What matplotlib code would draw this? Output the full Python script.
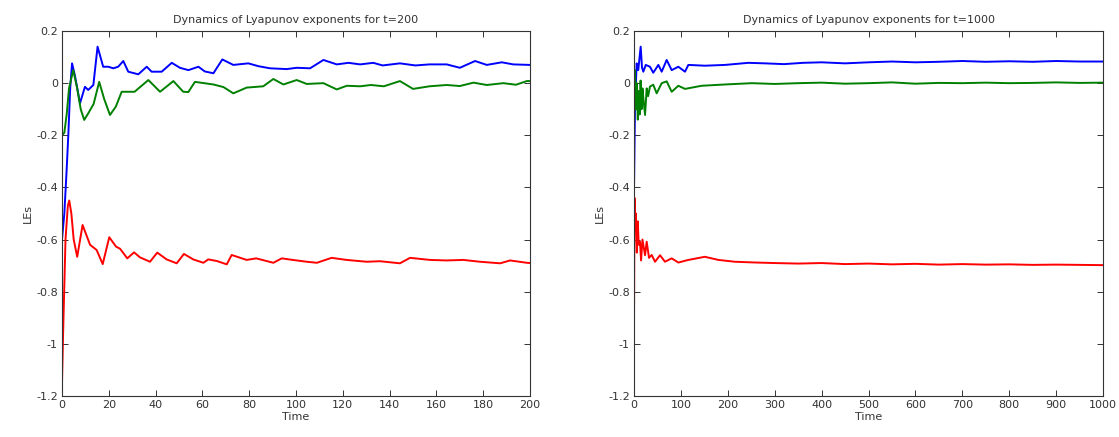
import numpy as np
import matplotlib
matplotlib.use('Agg')
import matplotlib.pyplot as plt
from matplotlib.ticker import FormatStrFormatter, FuncFormatter

plt.rcParams['axes.unicode_minus'] = False
plt.rcParams['font.family'] = ['DejaVu Sans']

# ---- left panel: t = 200 ----
t_blue_200 = [0, 1, 2, 2.7, 3.5, 4.3, 5.5, 7.7, 9.8, 11.2, 13.4, 15.2, 17.6, 19.8, 21.9, 24,
              26.2, 28.3, 32.6, 36.2, 38.3, 42.6, 46.9, 50.4, 54, 58.3, 61, 64.7, 68.5, 73.2,
              79.6, 84, 88.9, 96, 100.3, 106, 111.7, 117.4, 122.4, 127.4, 133, 137, 144.4, 151,
              157, 164.4, 170, 176.5, 181.5, 187.9, 192.8, 200]
le1_200 = [-0.6, -0.5, -0.33, -0.2, -0.02, 0.076, 0.03, -0.077, -0.014, -0.026, -0.007, 0.14,
           0.063, 0.063, 0.057, 0.063, 0.085, 0.044, 0.034, 0.063, 0.044, 0.044, 0.078, 0.059,
           0.05, 0.063, 0.045, 0.038, 0.091, 0.07, 0.076, 0.065, 0.057, 0.054, 0.059, 0.057,
           0.089, 0.072, 0.078, 0.072, 0.078, 0.068, 0.076, 0.068, 0.072, 0.072, 0.059, 0.085,
           0.07, 0.08, 0.072, 0.07]

t_green_200 = [0, 1, 2, 3, 4.8, 6.5, 8, 9.5, 11.2, 13.5, 15.9, 18, 20.5, 23, 25.5, 31, 36.9,
               41.9, 47.6, 51.8, 54, 56.8, 64.7, 69, 73.2, 78.9, 86, 90.3, 94.6, 100.3, 104.6,
               111.7, 117.4, 121.7, 127.4, 132, 137.5, 144.4, 150, 157, 164.4, 170, 175.8,
               181.5, 188.6, 194, 198.6, 200]
le2_200 = [-0.2, -0.19, -0.12, -0.02, 0.05, -0.02, -0.1, -0.141, -0.116, -0.08, 0.005, -0.06,
           -0.122, -0.09, -0.033, -0.033, 0.012, -0.033, 0.008, -0.033, -0.034, 0.005, -0.005,
           -0.015, -0.039, -0.017, -0.012, 0.016, -0.005, 0.012, -0.003, 0.0, -0.024, -0.01,
           -0.012, -0.007, -0.012, 0.008, -0.022, -0.012, -0.007, -0.011, 0.002, -0.007, 0.0,
           -0.006, 0.008, 0.008]

t_red_200 = [0, 0.5, 1.5, 2.5, 3.1, 4, 5, 6.5, 8.8, 12, 14.8, 17.4, 20.2, 23.1, 24.8, 27.9,
             30.8, 33.3, 37.6, 40.7, 44.7, 49, 52.1, 56.1, 60.4, 62.5, 66.1, 70.4, 72.5, 78.9,
             83, 90.3, 93.9, 98.6, 104.6, 108.9, 115.2, 121.6, 130.2, 135.9, 144.4, 148.7,
             157.3, 164.4, 171.5, 178.6, 187.2, 191.5, 198.6, 200]
le3_200 = [-1.15, -0.95, -0.6, -0.47, -0.45, -0.5, -0.6, -0.666, -0.544, -0.62, -0.64, -0.694,
           -0.591, -0.627, -0.635, -0.672, -0.649, -0.668, -0.685, -0.65, -0.676, -0.691,
           -0.655, -0.676, -0.689, -0.676, -0.682, -0.695, -0.659, -0.678, -0.672, -0.689,
           -0.672, -0.678, -0.685, -0.689, -0.67, -0.678, -0.685, -0.683, -0.691, -0.67,
           -0.678, -0.68, -0.678, -0.685, -0.691, -0.68, -0.689, -0.69]

# ---- right panel: t = 1000 ----
t_blue_1000 = [0, 2, 5.6, 9, 14.2, 17, 19.8, 25, 34, 41, 51.9, 59, 69.6, 80.3, 94.5, 108.7,
               115.8, 151, 194, 243.7, 279, 320, 360, 400, 450, 500, 550, 600, 650, 700, 750,
               800, 850, 900, 950, 1000]
le1_1000 = [-0.4, -0.1, 0.076, 0.05, 0.14, 0.06, 0.044, 0.07, 0.063, 0.04, 0.07, 0.044, 0.089,
            0.05, 0.063, 0.044, 0.07, 0.067, 0.07, 0.078, 0.076, 0.073, 0.078, 0.08, 0.076,
            0.08, 0.083, 0.08, 0.082, 0.085, 0.082, 0.084, 0.082, 0.085, 0.083, 0.083]

t_green_1000 = [0, 2, 4, 6, 8, 10, 12, 14, 16, 18, 20, 23.5, 27, 30, 34, 41, 48.3, 59, 69.6,
                80.3, 94.5, 108.7, 144, 194, 251, 300, 350, 400, 450, 500, 550, 600, 650, 700,
                750, 800, 850, 900, 950, 1000]
le2_1000 = [-0.15, 0.05, -0.1, 0.0, -0.14, -0.03, -0.12, 0.01, -0.1, -0.02, -0.06, -0.122,
            -0.02, -0.05, -0.013, -0.006, -0.039, 0.0, 0.007, -0.033, -0.01, -0.022, -0.01,
            -0.005, 0.0, -0.003, 0.0, 0.002, -0.002, 0.0, 0.003, -0.002, 0.001, 0.0, 0.002,
            0.0, 0.001, 0.003, 0.001, 0.002]

t_red_1000 = [0, 1, 2, 4, 6, 8, 10, 12.8, 15, 18, 23.5, 27, 32, 37.7, 44.8, 55.5, 66, 80.3,
              94.5, 115.8, 151, 180, 215, 260, 300, 350, 400, 450, 500, 550, 600, 650, 700,
              750, 800, 850, 900, 950, 1000]
le3_1000 = [-0.92, -0.44, -0.55, -0.5, -0.65, -0.53, -0.62, -0.608, -0.68, -0.6, -0.66, -0.608,
            -0.67, -0.659, -0.685, -0.66, -0.685, -0.672, -0.688, -0.678, -0.666, -0.678,
            -0.685, -0.688, -0.69, -0.692, -0.69, -0.694, -0.692, -0.695, -0.693, -0.696,
            -0.694, -0.696, -0.695, -0.697, -0.696, -0.697, -0.698]

yticks = [0.2, 0, -0.2, -0.4, -0.6, -0.8, -1, -1.2]

fig = plt.figure(figsize=(11.19, 4.37), dpi=100)
ax1 = fig.add_axes([0.0554, 0.0938, 0.4183, 0.8352])
ax2 = fig.add_axes([0.5666, 0.0938, 0.4191, 0.8352])

panels = [
    (ax1, 200, np.arange(0, 201, 20),
     [(t_blue_200, le1_200), (t_green_200, le2_200), (t_red_200, le3_200)]),
    (ax2, 1000, np.arange(0, 1001, 100),
     [(t_blue_1000, le1_1000), (t_green_1000, le2_1000), (t_red_1000, le3_1000)]),
]
colors = ['#0000ff', '#008000', '#ff0000']

for ax, tmax, xticks, series in panels:
    for (t, v), c in zip(series, colors):
        ax.plot(t, v, color=c, lw=1.4)
    ax.set_xlim(0, tmax)
    ax.set_ylim(-1.2, 0.2)
    ax.set_xticks(xticks)
    ax.set_yticks(yticks)
    ax.yaxis.set_major_formatter(FuncFormatter(lambda y, p: '%g' % round(y, 2)))
    ax.tick_params(direction='in', top=True, right=True, labelsize=8, length=4,
                   width=0.7, colors='#333333', pad=3)
    for s in ax.spines.values():
        s.set_linewidth(0.8)
        s.set_color('#333333')
    ax.set_title('Dynamics of Lyapunov exponents for t=%d' % tmax, fontsize=8,
                 color='#333333', pad=6)
    ax.set_xlabel('Time', fontsize=8, color='#333333', labelpad=1)
    ax.set_ylabel('LEs', fontsize=8, color='#333333', labelpad=2)

fig.savefig('out.png', dpi=100)
